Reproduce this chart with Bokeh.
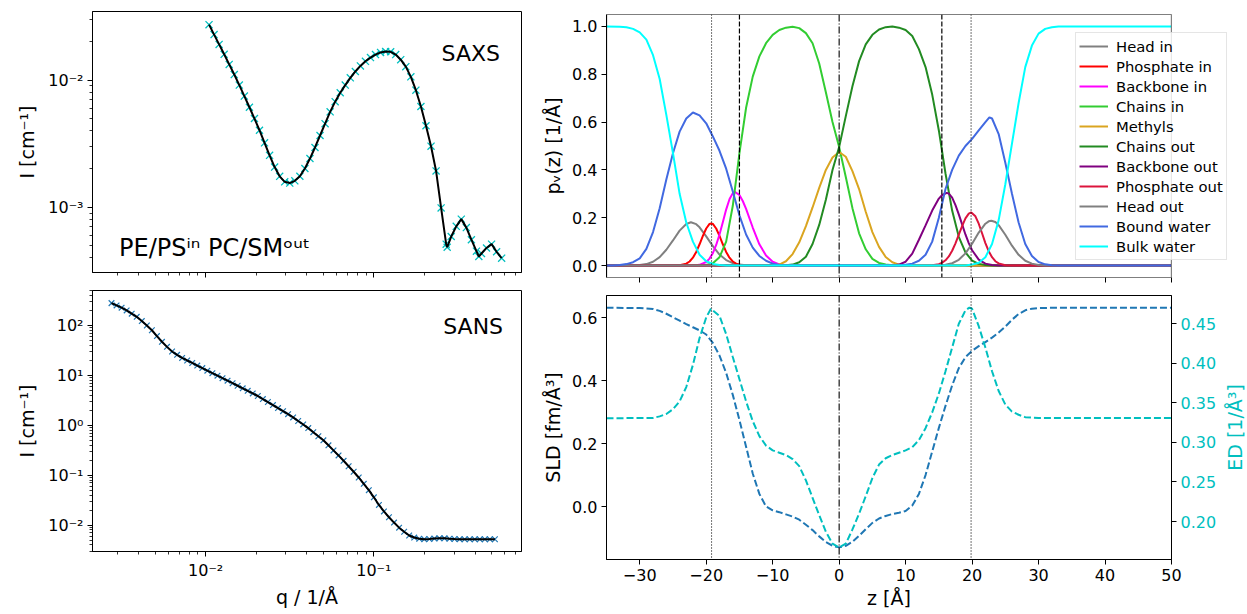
import math
from bokeh.plotting import figure
from bokeh.layouts import row, column
from bokeh.models import (FixedTicker, CustomJSTickFormatter, PrintfTickFormatter,
                          Range1d, LinearAxis, Span, Label, BoxAnnotation)
from bokeh.embed import file_html
from bokeh.resources import INLINE

# ---------------- data ----------------
saxs_q = [0.01047, 0.01122, 0.01202, 0.01288, 0.0138, 0.01479, 0.01585, 0.01698, 0.0182, 0.0195,
          0.02089, 0.02239, 0.02399, 0.0257, 0.02754, 0.02951, 0.03162, 0.03388, 0.03631, 0.0389,
          0.04169, 0.04467, 0.04786, 0.05129, 0.05495, 0.05888, 0.0631, 0.06761, 0.07244, 0.07762,
          0.08318, 0.08913, 0.0955, 0.1023, 0.1096, 0.1175, 0.1259, 0.1349, 0.1445, 0.1549,
          0.166, 0.1778, 0.1905, 0.2042, 0.2188, 0.2344, 0.2512, 0.2692, 0.273, 0.2884, 0.309,
          0.3311, 0.3548, 0.3802, 0.4074, 0.421, 0.4365, 0.4677, 0.5012, 0.537, 0.5754]
saxs_i = [0.02723, 0.02275, 0.01905, 0.01592, 0.01327, 0.01104, 0.00912, 0.00748, 0.00611, 0.00498,
          0.00403, 0.00321, 0.00256, 0.00207, 0.00175, 0.001585, 0.001549, 0.001614, 0.001754, 0.002018,
          0.002415, 0.002951, 0.003664, 0.004539, 0.005623, 0.006761, 0.007943, 0.00912, 0.0104, 0.01167,
          0.01291, 0.01403, 0.015, 0.01585, 0.01648, 0.01675, 0.01667, 0.01585, 0.01445, 0.01274,
          0.01059, 0.00832, 0.00619, 0.00437, 0.00302, 0.00193, 0.000989, 0.000513, 0.000485, 0.000589, 0.000708,
          0.000807, 0.000692, 0.000556, 0.000452, 0.00041, 0.000433, 0.000479, 0.000513, 0.000447, 0.000398]

sans_q = [0.002754, 0.002951, 0.003162, 0.003388, 0.003631, 0.00389, 0.004169, 0.004467, 0.004786, 0.005129,
          0.005495, 0.005888, 0.00631, 0.006761, 0.007244, 0.007762, 0.008318, 0.008913, 0.00955, 0.01023,
          0.01096, 0.01175, 0.01259, 0.01349, 0.01445, 0.01549, 0.0166, 0.01778, 0.01905, 0.02042,
          0.02188, 0.02344, 0.02512, 0.02692, 0.02884, 0.0309, 0.03311, 0.03548, 0.03802, 0.04074,
          0.04365, 0.04677, 0.05012, 0.0537, 0.05754, 0.06166, 0.06607, 0.07079, 0.07586, 0.08128,
          0.0871, 0.09333, 0.1, 0.1072, 0.1148, 0.123, 0.1318, 0.1413, 0.1514, 0.1622,
          0.1738, 0.1862, 0.1995, 0.2138, 0.2291, 0.2455, 0.263, 0.2818, 0.302, 0.3236,
          0.3467, 0.3715, 0.3981, 0.4266, 0.4571, 0.4898, 0.5248]
sans_i = [281.8, 253.5, 228.0, 200.9, 173.4, 149.6, 123.0, 100.2, 80.5, 61.5,
          47.3, 37.4, 30.2, 25.9, 22.4, 19.95, 17.78, 15.8, 14.03, 12.47,
          11.12, 9.91, 8.81, 7.85, 6.98, 6.21, 5.52, 4.91, 4.365, 3.873,
          3.365, 2.931, 2.547, 2.213, 1.923, 1.671, 1.439, 1.222, 1.040, 0.879,
          0.729, 0.604, 0.501, 0.397, 0.314, 0.249, 0.1945, 0.151, 0.1172, 0.0899,
          0.0671, 0.0501, 0.036, 0.0253, 0.0188, 0.01436, 0.01122, 0.00887, 0.00735, 0.00617,
          0.00562, 0.00531, 0.00521, 0.00525, 0.00537, 0.00547, 0.00543, 0.00531, 0.00525, 0.00521,
          0.0052, 0.0052, 0.00519, 0.0052, 0.0052, 0.0052, 0.0052]

head_in_z = [-35, -31, -30, -29, -28, -27, -26, -25, -24, -23, -22.3, -21.5, -21, -20, -19, -18, -17, -16, -15, -14, -13, 50]
head_in_v = [0, 0, 0.002, 0.006, 0.016, 0.035, 0.066, 0.105, 0.146, 0.174, 0.181, 0.173, 0.160, 0.122, 0.081, 0.046, 0.023, 0.010, 0.004, 0.001, 0, 0]
phos_in_z = [-35, -24, -23, -22.5, -22, -21.5, -21, -20.5, -20, -19.5, -19.25, -19, -18.5, -18, -17.5, -17, -16.5, -16, -15.5, -15, -14, 50]
phos_in_v = [0, 0.001, 0.008, 0.017, 0.033, 0.057, 0.089, 0.124, 0.155, 0.174, 0.176, 0.174, 0.155, 0.124, 0.089, 0.057, 0.033, 0.017, 0.008, 0.003, 0, 0]
bb_in_z = [-35, -22, -21, -20, -19.5, -19, -18.5, -18, -17.5, -17, -16.5, -16, -15.7, -15, -14.5, -14, -13, -12, -11, -10, -9, -8, -7, 50]
bb_in_v = [0, 0, 0.003, 0.015, 0.029, 0.052, 0.086, 0.130, 0.181, 0.234, 0.277, 0.303, 0.308, 0.295, 0.270, 0.237, 0.159, 0.089, 0.042, 0.016, 0.005, 0.001, 0, 0]
chains_in_z = [-35, -21, -20, -19, -18, -17, -16, -15, -14, -13, -12, -11, -10, -9, -8, -7, -6, -5, -4, -3, -2, -1, 0, 1, 2, 3, 4, 5, 6, 7, 8, 9, 50]
chains_in_v = [0, 0, 0.002, 0.01, 0.035, 0.10, 0.25, 0.47, 0.66, 0.79, 0.875, 0.93, 0.965, 0.985, 0.995, 0.999, 0.993, 0.972, 0.93, 0.845, 0.725, 0.60, 0.496, 0.37, 0.24, 0.135, 0.068, 0.028, 0.011, 0.004, 0.001, 0, 0]
methyl_z = [-35, -10, -9, -8, -7, -6, -5, -4, -3, -2, -1, 0, 1, 2, 3, 4, 5, 6, 7, 8, 9, 10, 11, 50]
methyl_v = [0, 0.001, 0.004, 0.018, 0.048, 0.097, 0.165, 0.243, 0.325, 0.40, 0.452, 0.475, 0.455, 0.395, 0.32, 0.225, 0.14, 0.078, 0.036, 0.014, 0.004, 0.001, 0, 0]
chains_out_z = [-35, -9, -8, -7, -6, -5, -4, -3, -2, -1, 0, 1, 2, 3, 4, 5, 6, 7, 8, 9, 10, 11, 12, 13, 14, 15, 16, 17, 18, 19, 20, 21, 22, 23, 50]
chains_out_v = [0, 0, 0.001, 0.004, 0.014, 0.037, 0.09, 0.17, 0.275, 0.40, 0.496, 0.625, 0.75, 0.855, 0.925, 0.965, 0.987, 0.997, 1.0, 0.995, 0.985, 0.96, 0.905, 0.83, 0.715, 0.565, 0.385, 0.23, 0.12, 0.055, 0.021, 0.007, 0.002, 0, 0]
bb_out_z = [-35, 8, 9, 10, 11, 12, 13, 14, 15, 15.5, 16.2, 16.5, 17, 17.5, 18, 18.5, 19, 19.5, 20, 21, 22, 23, 24, 50]
bb_out_v = [0, 0, 0.004, 0.016, 0.05, 0.108, 0.168, 0.23, 0.28, 0.295, 0.304, 0.301, 0.284, 0.253, 0.214, 0.172, 0.130, 0.094, 0.064, 0.025, 0.008, 0.002, 0, 0]
phos_out_z = [-35, 14, 15, 15.5, 16, 16.5, 17, 17.5, 18, 18.5, 19, 19.5, 19.88, 20.5, 21, 21.5, 22, 22.5, 23, 23.5, 24, 25, 26, 50]
phos_out_v = [0, 0.001, 0.006, 0.012, 0.022, 0.038, 0.062, 0.093, 0.129, 0.165, 0.197, 0.217, 0.222, 0.206, 0.175, 0.135, 0.094, 0.060, 0.035, 0.018, 0.009, 0.001, 0, 0]
head_out_z = [-35, 15, 16, 17, 18, 19, 20, 21, 22, 22.5, 22.9, 23.5, 24, 25, 26, 27, 28, 29, 30, 31, 32, 50]
head_out_v = [0, 0, 0.003, 0.0096, 0.024, 0.051, 0.091, 0.138, 0.175, 0.185, 0.1875, 0.182, 0.169, 0.129, 0.083, 0.045, 0.020, 0.008, 0.0025, 0.0007, 0, 0]
bound_z = [-35, -34, -33, -32, -31, -30, -29, -28, -27, -26, -25, -24, -23, -22, -21, -20, -19, -18, -17, -16,
           -15, -14, -13, -12, -11, -10, -9, -8, 9, 10, 11, 12, 13, 14, 15, 16, 17, 18, 19, 20, 21, 22, 22.6,
           23, 24, 25, 26, 27, 28, 29, 30, 31, 32, 33, 50]
bound_v = [0, 0, 0.002, 0.006, 0.014, 0.03, 0.07, 0.14, 0.24, 0.36, 0.47, 0.56, 0.615, 0.64, 0.628, 0.595, 0.54, 0.48, 0.405, 0.31,
           0.21, 0.13, 0.075, 0.04, 0.02, 0.008, 0.002, 0, 0, 0.003, 0.008, 0.02, 0.045, 0.10, 0.2, 0.32, 0.40, 0.46, 0.50, 0.53, 0.565, 0.60, 0.62,
           0.615, 0.55, 0.43, 0.30, 0.18, 0.09, 0.04, 0.015, 0.005, 0.001, 0, 0]
bulk_z = [-35, -33, -32, -31, -30, -29, -28, -27, -26, -25, -24, -23, -22, -21, -20, -19, -18, -17,
          19, 20, 21, 22, 23, 24, 25, 26, 27, 28, 29, 30, 31, 32, 33, 50]
bulk_v = [1.0, 0.999, 0.997, 0.99, 0.975, 0.945, 0.88, 0.78, 0.63, 0.47, 0.30, 0.18, 0.10, 0.045, 0.018, 0.007, 0.002, 0,
          0, 0.004, 0.012, 0.035, 0.09, 0.19, 0.34, 0.51, 0.68, 0.83, 0.92, 0.97, 0.99, 0.997, 1.0, 1.0]

sld_z = [-35, -30, -28, -27, -26, -25, -24, -23, -22, -21, -20, -19, -18, -17, -16, -15, -14, -13, -12, -11, -10,
         -9, -8, -7, -6, -5, -4, -3, -2, -1, 0, 1, 2, 3, 4, 5, 6, 7, 8, 9, 10, 11, 12, 13, 14, 15, 16, 17, 18, 19,
         20, 21, 22, 23, 24, 25, 26, 27, 28, 29, 30, 32, 50]
sld_v = [0.632, 0.631, 0.628, 0.622, 0.613, 0.602, 0.591, 0.58, 0.57, 0.56, 0.547, 0.52, 0.48, 0.425, 0.355, 0.275, 0.19, 0.105, 0.04, 0.0, -0.012,
         -0.018, -0.025, -0.032, -0.042, -0.058, -0.075, -0.095, -0.113, -0.125, -0.13, -0.125, -0.112, -0.093, -0.072, -0.052, -0.038, -0.03, -0.024, -0.02, -0.014,
         0.003, 0.04, 0.1, 0.175, 0.25, 0.32, 0.385, 0.44, 0.475, 0.495, 0.51, 0.523, 0.537, 0.553, 0.572, 0.594, 0.612, 0.624, 0.629, 0.631, 0.632, 0.632]
ed_z = [-35, -28, -27, -26, -25, -24, -23, -22, -21, -20, -19.3, -18, -17, -16, -15, -14, -13, -12, -11, -10, -9,
        -8, -7, -6, -5, -4, -3, -2, -1, 0, 1, 2, 3, 4, 5, 6, 7, 8, 9, 10, 11, 12, 13, 14, 15, 16, 17, 18, 19, 19.6,
        20, 21, 22, 23, 24, 25, 26, 27, 28, 30, 50]
ed_v = [0.3306, 0.331, 0.333, 0.336, 0.342, 0.352, 0.37, 0.398, 0.432, 0.458, 0.469, 0.46, 0.437, 0.408, 0.38, 0.352, 0.327, 0.308, 0.296, 0.29, 0.287,
        0.284, 0.279, 0.27, 0.252, 0.23, 0.208, 0.187, 0.172, 0.1672, 0.172, 0.19, 0.21, 0.232, 0.255, 0.272, 0.28, 0.284, 0.287, 0.29, 0.294,
        0.303, 0.318, 0.338, 0.362, 0.39, 0.42, 0.45, 0.467, 0.4705, 0.469, 0.447, 0.42, 0.39, 0.365, 0.348, 0.339, 0.335, 0.332, 0.331, 0.331]

vline_dotted = [-19.2, 19.85]
vline_dashed = [-15.0, 15.45]
vline_center = [0.0]

profile_labels = ["Head in", "Phosphate in", "Backbone in", "Chains in", "Methyls", "Chains out",
                  "Backbone out", "Phosphate out", "Head out", "Bound water", "Bulk water"]
profile_z = [head_in_z, phos_in_z, bb_in_z, chains_in_z, methyl_z, chains_out_z,
             bb_out_z, phos_out_z, head_out_z, bound_z, bulk_z]
profile_v = [head_in_v, phos_in_v, bb_in_v, chains_in_v, methyl_v, chains_out_v,
             bb_out_v, phos_out_v, head_out_v, bound_v, bulk_v]
profile_colors = ["#808080", "#ff0000", "#ff00ff", "#32cd32", "#daa520", "#228b22",
                  "#800080", "#dc143c", "#808080", "#4169e1", "#00ffff"]

saxs_ticks = [1e-3, 1e-2]
saxs_minor = [4e-4, 5e-4, 6e-4, 7e-4, 8e-4, 9e-4, 2e-3, 3e-3, 4e-3, 5e-3, 6e-3, 7e-3, 8e-3, 9e-3, 2e-2, 3e-2]
sans_ticks = [1e-2, 1e-1, 1, 10, 100]
sans_minor = [3e-3, 4e-3, 5e-3, 6e-3, 7e-3, 8e-3, 9e-3, 2e-2, 3e-2, 4e-2, 5e-2, 6e-2, 7e-2, 8e-2, 9e-2,
              0.2, 0.3, 0.4, 0.5, 0.6, 0.7, 0.8, 0.9, 2, 3, 4, 5, 6, 7, 8, 9, 20, 30, 40, 50, 60, 70, 80, 90,
              200, 300, 400, 500]
q_ticks = [1e-2, 1e-1]
q_minor = [3e-3, 4e-3, 5e-3, 6e-3, 7e-3, 8e-3, 9e-3, 2e-2, 3e-2, 4e-2, 5e-2, 6e-2, 7e-2, 8e-2, 9e-2,
           0.2, 0.3, 0.4, 0.5, 0.6, 0.7]
z_ticks = [-30, -20, -10, 0, 10, 20, 30, 40, 50]
pv_ticks = [0.0, 0.2, 0.4, 0.6, 0.8, 1.0]
sld_ticks = [0.0, 0.2, 0.4, 0.6]
ed_ticks = [0.20, 0.25, 0.30, 0.35, 0.40, 0.45]

# ---------------- styling helpers ----------------
FONT = "DejaVu Sans"
TICK_FS = "16px"
LAB_FS = "19px"
SAXS_C = "#00bfbf"
SANS_C = "#1f77b4"


def log_fmt():
    return CustomJSTickFormatter(code="""
const e = Math.round(Math.log10(tick));
const m = {'-':'\u207b','0':'\u2070','1':'\u00b9','2':'\u00b2','3':'\u00b3','4':'\u2074',
           '5':'\u2075','6':'\u2076','7':'\u2077','8':'\u2078','9':'\u2079'};
return '10' + String(e).split('').map(c => m[c]).join('');
""")


def minus_fmt():
    return CustomJSTickFormatter(code="return tick < 0 ? '\\u2212' + Math.abs(tick).toFixed(0) : tick.toFixed(0);")


def blank_fmt():
    return CustomJSTickFormatter(code="return '';")


def style_axis(ax):
    ax.major_label_text_font = FONT
    ax.major_label_text_font_size = TICK_FS
    ax.major_label_text_color = "black"
    ax.axis_label_text_font = FONT
    ax.axis_label_text_font_size = LAB_FS
    ax.axis_label_text_font_style = "normal"
    ax.axis_label_text_color = "black"
    ax.major_tick_out = 5
    ax.major_tick_in = 0
    ax.minor_tick_out = 3
    ax.minor_tick_in = 0
    ax.major_tick_line_color = "black"
    ax.minor_tick_line_color = "black"
    ax.major_tick_line_width = 1
    ax.minor_tick_line_width = 0.8
    ax.axis_line_color = "black"
    ax.axis_line_width = 1
    ax.major_label_standoff = 4


def style(p):
    p.outline_line_color = "black"
    p.outline_line_width = 1
    p.outline_line_alpha = 1
    p.xgrid.visible = False
    p.ygrid.visible = False
    p.background_fill_color = "white"
    p.border_fill_color = "white"
    for ax in p.axis:
        style_axis(ax)


def hide_labels(ax):
    ax.formatter = blank_fmt()
    ax.major_label_text_font_size = "2px"
    ax.major_label_standoff = 0


def no_frame_align(p):
    try:
        p.frame_align = False
    except Exception:
        pass


common = dict(output_backend="svg", toolbar_location=None, tools="")

# ---------------- SAXS ----------------
p1 = figure(width=531, height=281, x_axis_type="log", y_axis_type="log",
            x_range=Range1d(0.002123, 0.7551), y_range=Range1d(3.072e-4, 0.03455),
            min_border_left=92, min_border_right=10, min_border_top=11, min_border_bottom=9, **common)
no_frame_align(p1)
style(p1)
p1.scatter(saxs_q, saxs_i, marker="x", size=10, line_color=SAXS_C, line_width=1.3)
p1.line(saxs_q, saxs_i, line_color="black", line_width=2)
p1.xaxis.ticker = FixedTicker(ticks=q_ticks, minor_ticks=q_minor)
hide_labels(p1.xaxis[0])
p1.yaxis.ticker = FixedTicker(ticks=saxs_ticks, minor_ticks=saxs_minor)
p1.yaxis.formatter = log_fmt()
p1.yaxis.axis_label = "I [cm\u207b\u00b9]"
p1.yaxis.axis_label_standoff = 7
p1.add_layout(Label(x=0.2527, y=0.01618, text="SAXS", text_font=FONT, text_font_size="22px",
                    text_color="black", text_baseline="alphabetic", text_align="left"))
p1.add_layout(Label(x=0.003055, y=4.8e-4, text="PE/PS\u2071\u207f PC/SM\u1d52\u1d58\u1d57", text_font=FONT,
                    text_font_size="24px", text_color="black", text_baseline="alphabetic", text_align="left"))

# ---------------- SANS ----------------
p3 = figure(width=531, height=333, x_axis_type="log", y_axis_type="log",
            x_range=Range1d(0.002123, 0.7551), y_range=Range1d(2.951e-3, 504.7),
            min_border_left=92, min_border_right=10, min_border_top=9, min_border_bottom=63, **common)
no_frame_align(p3)
style(p3)
p3.scatter(sans_q, sans_i, marker="x", size=8, line_color=SANS_C, line_width=1.2)
p3.line(sans_q, sans_i, line_color="black", line_width=2)
p3.xaxis.ticker = FixedTicker(ticks=q_ticks, minor_ticks=q_minor)
p3.xaxis.formatter = log_fmt()
p3.xaxis.axis_label = "q / 1/\u00c5"
p3.xaxis.axis_label_standoff = 3
p3.yaxis.ticker = FixedTicker(ticks=sans_ticks, minor_ticks=sans_minor)
p3.yaxis.formatter = log_fmt()
p3.yaxis.axis_label = "I [cm\u207b\u00b9]"
p3.yaxis.axis_label_standoff = 7
p3.add_layout(Label(x=0.2586, y=96.8, text="SANS", text_font=FONT, text_font_size="22px",
                    text_color="black", text_baseline="alphabetic", text_align="left"))

# ---------------- volume probabilities ----------------
# the frame is widened to the right so that the legend can overhang the axes box;
# the visible axes box (-35..50) is drawn with a BoxAnnotation.
Z_LO, Z_HI = -35, 50
P2_FRAME_W = 631
z_view_hi = Z_LO + P2_FRAME_W * (Z_HI - Z_LO) / 565.0
p2 = figure(width=716, height=286, x_range=Range1d(Z_LO, z_view_hi), y_range=Range1d(-0.05, 1.05),
            min_border_left=75, min_border_right=716 - 75 - P2_FRAME_W, min_border_top=14, min_border_bottom=9,
            **common)
no_frame_align(p2)
style(p2)
p2.outline_line_color = None
p2.xaxis.axis_line_color = None
for zz, vv, cc, lab in zip(profile_z, profile_v, profile_colors, profile_labels):
    p2.line(zz, vv, line_color=cc, line_width=2, legend_label=lab)
for v in vline_dotted:
    p2.add_layout(Span(location=v, dimension="height", line_color="black", line_width=1.1, line_dash="1 2"))
for v in vline_dashed:
    p2.add_layout(Span(location=v, dimension="height", line_color="black", line_width=1.2, line_dash="5 2"))
for v in vline_center:
    p2.add_layout(Span(location=v, dimension="height", line_color="black", line_width=1.1, line_dash="7 2 1 2"))
p2.add_layout(BoxAnnotation(left=Z_LO, right=Z_HI, bottom=-0.05, top=1.05, fill_color=None, fill_alpha=0,
                            line_color="black", line_width=1.2, line_alpha=1))
p2.add_layout(BoxAnnotation(left=Z_HI, right=z_view_hi, bottom=-0.05, top=1.05, fill_color="white",
                            fill_alpha=1, line_color=None))
p2.xaxis.ticker = FixedTicker(ticks=z_ticks)
hide_labels(p2.xaxis[0])
p2.yaxis.ticker = FixedTicker(ticks=pv_ticks)
p2.yaxis.formatter = PrintfTickFormatter(format="%.1f")
p2.yaxis.axis_label = "p\u1d65(z) [1/\u00c5]"
p2.yaxis.axis_label_standoff = 5
leg = p2.legend[0]
leg.location = (469, 17)
leg.label_text_font = FONT
leg.label_text_font_size = "14.8px"
leg.label_text_color = "black"
leg.glyph_width = 29
leg.glyph_height = 20
leg.label_height = 20
leg.spacing = 0
leg.padding = 3
leg.margin = 0
leg.label_standoff = 8
leg.border_line_color = "#cccccc"
leg.border_line_width = 1
leg.background_fill_color = "white"
leg.background_fill_alpha = 0.8
p2.center = [r for r in p2.center if r is not leg] + [leg]

# ---------------- SLD / ED ----------------
P4_W = 689
p4 = figure(width=P4_W, height=328, x_range=Range1d(-35, 50), y_range=Range1d(-0.1685, 0.671),
            min_border_left=75, min_border_right=P4_W - 75 - 565, min_border_top=9, min_border_bottom=55, **common)
no_frame_align(p4)
p4.extra_y_ranges = {"ed": Range1d(0.152, 0.4858)}
ed_axis = LinearAxis(y_range_name="ed")
p4.add_layout(ed_axis, "right")
style(p4)
p4.line(sld_z, sld_v, line_color=SANS_C, line_width=2, line_dash="7 3")
p4.line(ed_z, ed_v, line_color=SAXS_C, line_width=2, line_dash="7 3", y_range_name="ed")
for v in vline_dotted:
    p4.add_layout(Span(location=v, dimension="height", line_color="black", line_width=1.1, line_dash="1 2"))
for v in vline_center:
    p4.add_layout(Span(location=v, dimension="height", line_color="black", line_width=1.1, line_dash="7 2 1 2"))
p4.xaxis.ticker = FixedTicker(ticks=z_ticks)
p4.xaxis.formatter = minus_fmt()
p4.xaxis.axis_label = "z [\u00c5]"
p4.xaxis.axis_label_standoff = 3
p4.yaxis[0].ticker = FixedTicker(ticks=sld_ticks)
p4.yaxis[0].formatter = PrintfTickFormatter(format="%.1f")
p4.yaxis[0].axis_label = "SLD [fm/\u00c5\u00b3]"
p4.yaxis[0].axis_label_standoff = 5
ed_axis.ticker = FixedTicker(ticks=ed_ticks)
ed_axis.formatter = PrintfTickFormatter(format="%.2f")
ed_axis.major_label_text_color = SAXS_C

# narrow strip to the right of the SLD panel that carries the ED axis title
# (a left-side axis title reads bottom-to-top, like the reference)
STRIP_W = 1247 - 531 - P4_W
strip = figure(width=STRIP_W, height=328, x_range=Range1d(0, 1), y_range=Range1d(0.152, 0.4858),
               min_border_left=STRIP_W - 2, min_border_right=0, min_border_top=9, min_border_bottom=55, **common)
no_frame_align(strip)
strip.outline_line_color = None
strip.xgrid.visible = False
strip.ygrid.visible = False
strip.xaxis.visible = False
strip.background_fill_alpha = 0
strip.border_fill_color = "white"
sy = strip.yaxis[0]
sy.ticker = FixedTicker(ticks=[])
sy.formatter = blank_fmt()
sy.major_label_text_font_size = "1px"
sy.major_label_standoff = 0
sy.major_tick_out = 0
sy.minor_tick_out = 0
sy.axis_line_color = None
sy.axis_label = "ED [1/\u00c5\u00b3]"
sy.axis_label_text_font = FONT
sy.axis_label_text_font_size = LAB_FS
sy.axis_label_text_font_style = "normal"
sy.axis_label_text_color = SAXS_C
sy.axis_label_standoff = 0

layout = row(column(p1, p3), column(p2, row(p4, strip)))
open("out.html", "w").write(file_html(layout, INLINE))
